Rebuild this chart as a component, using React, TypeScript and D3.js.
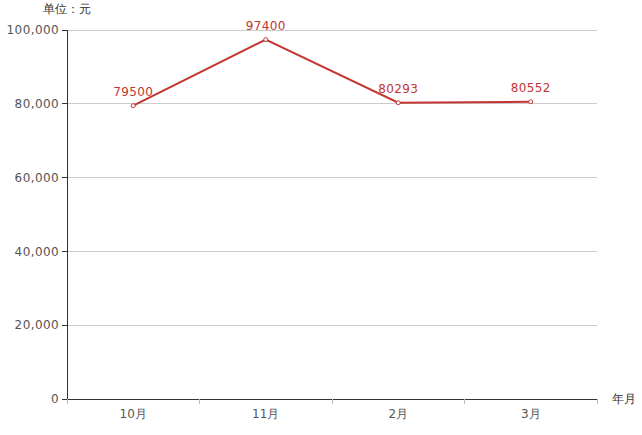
import React from "react";
import * as d3 from "d3";

const categories = ["10月", "11月", "2月", "3月"];
const values = [79500, 97400, 80293, 80552];
const yTicks = [0, 20000, 40000, 60000, 80000, 100000];

const W = 642, H = 435;
const left = 67, right = 597, top = 30, bottom = 399;
const red = "#c23531";
const font = "'DejaVu Sans', sans-serif";

export default function App() {
  const x = d3.scaleBand<string>().domain(categories).range([left, right]);
  const y = d3.scaleLinear().domain([0, 100000]).range([bottom, top]);
  const fmt = d3.format(",");
  const line = d3
    .line<number>()
    .x((_, i) => (x(categories[i]) as number) + x.bandwidth() / 2)
    .y((d) => y(d));
  const bounds = [...categories.map((c) => x(c) as number), right];
  return (
    <svg width={W} height={H} style={{ position: "absolute", left: 0, top: 0 }} fontFamily={font}>
      {yTicks.map((t) => (
        <g key={t}>
          {t > 0 && (
            <line x1={left} x2={right} y1={y(t)} y2={y(t)} stroke="#ccc" strokeWidth={1} shapeRendering="crispEdges" />
          )}
          <line x1={left - 5} x2={left} y1={y(t)} y2={y(t)} stroke="#333" shapeRendering="crispEdges" />
          <text x={left - 8} y={y(t)} dy="0.35em" textAnchor="end" fontSize={12} fill="#555" letterSpacing={0.4}>
            {fmt(t)}
          </text>
        </g>
      ))}
      <line x1={left} x2={left} y1={top} y2={bottom} stroke="#333" shapeRendering="crispEdges" />
      <line x1={left} x2={right} y1={bottom} y2={bottom} stroke="#333" shapeRendering="crispEdges" />
      {bounds.map((b, i) => (
        <line key={i} x1={b} x2={b} y1={bottom} y2={bottom + 5} stroke="#bbb" shapeRendering="crispEdges" />
      ))}
      {categories.map((c) => (
        <text key={c} x={(x(c) as number) + x.bandwidth() / 2} y={bottom + 19} textAnchor="middle" fontSize={12} fill="#555">
          {c}
        </text>
      ))}
      <text x={left} y={13} textAnchor="middle" fontSize={12} fill="#333">单位：元</text>
      <text x={612} y={bottom + 4} textAnchor="start" fontSize={12} fill="#333">年月</text>
      <path d={line(values) || ""} fill="none" stroke={red} strokeWidth={2} />
      {values.map((v, i) => {
        const cx = (x(categories[i]) as number) + x.bandwidth() / 2;
        return (
          <g key={i}>
            <circle cx={cx} cy={y(v)} r={2} fill="#fff" stroke={red} strokeWidth={1} />
            <text x={cx} y={y(v) - 9.5} textAnchor="middle" fontSize={12} fill={red} letterSpacing={0.4}>
              {v}
            </text>
          </g>
        );
      })}
    </svg>
  );
}
